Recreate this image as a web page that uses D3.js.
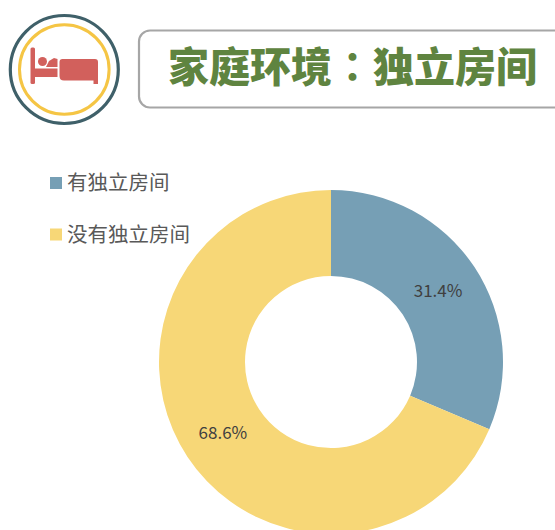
<!DOCTYPE html>
<html>
<head>
<meta charset="utf-8">
<script src="https://cdn.jsdelivr.net/npm/d3@7"></script>
<style>
  html, body { margin: 0; padding: 0; background: #fff; overflow: hidden; }
  text { font-family: "Noto Sans CJK SC", sans-serif; }
</style>
</head>
<body>
<div id="chart"></div>
<script>
// values
const categories = ["有独立房间", "没有独立房间"];
const values = [31.4, 68.6];
const labels = ["31.4%", "68.6%"];
const colors = ["#769fb5", "#f7d777"];
const titleLeft = "家庭环境";
const titleColon = "：";
const titleRight = "独立房间";

const width = 555, height = 530;

const svg = d3.select("#chart")
  .append("svg")
  .attr("width", width)
  .attr("height", height);

// Icon: two rings + bed
const icon = svg.append("g").attr("transform", "translate(64.3,69.5)");
icon.append("circle").attr("r", 54).attr("fill", "none")
  .attr("stroke", "#3f6069").attr("stroke-width", 3.2);
icon.append("circle").attr("r", 44.8).attr("fill", "none")
  .attr("stroke", "#f5c544").attr("stroke-width", 3);

const bed = svg.append("g").attr("fill", "#d2605c");
bed.append("rect").attr("x", 30.5).attr("y", 47.5).attr("width", 4.5).attr("height", 36.5).attr("rx", 1.5);
bed.append("rect").attr("x", 35).attr("y", 68.5).attr("width", 22.5).attr("height", 8.5);
bed.append("circle").attr("cx", 42.5).attr("cy", 61.5).attr("r", 4.5);
bed.append("path").attr("d", "M46 67 L49 61 L54 58 L57.5 59 L57.5 67 Z");
bed.append("path").attr("d", "M59.5 62 Q59.5 59 62.5 59 L95 59 Q98 59 98 62 L98 84 L93.5 84 L93.5 80.5 L64 80.5 Q59.5 80.5 59.5 76 Z");

// Title box
svg.append("rect")
  .attr("x", 139).attr("y", 30.5)
  .attr("width", 480).attr("height", 77)
  .attr("rx", 11)
  .attr("fill", "#fff")
  .attr("stroke", "#a6a6a6")
  .attr("stroke-width", 2.2);

// the TC face has the colon centred in its cell, as in the reference
const titleText = svg.append("text")
  .attr("x", 168)
  .attr("y", 82)
  .attr("font-size", 41)
  .attr("font-weight", 900)
  .attr("fill", "#5f8440");
titleText.append("tspan").text(titleLeft);
titleText.append("tspan").style("font-family", '"Noto Sans CJK TC"').attr("font-weight", 700).text(titleColon);
titleText.append("tspan").text(titleRight);

// Donut
const cx = 331, cy = 362, outer = 172, inner = 86;

const pie = d3.pie().sort(null).value(d => d);
const arc = d3.arc().innerRadius(inner).outerRadius(outer);
const labelArc = d3.arc().innerRadius(129).outerRadius(129);

const donut = svg.append("g").attr("transform", `translate(${cx},${cy})`);

donut.selectAll("path")
  .data(pie(values))
  .join("path")
  .attr("d", arc)
  .attr("fill", (d, i) => colors[i]);

donut.selectAll("text")
  .data(pie(values))
  .join("text")
  .attr("transform", d => `translate(${labelArc.centroid(d)})`)
  .attr("text-anchor", "middle")
  .attr("dy", "0.35em")
  .attr("x", -0.5)
  .attr("font-size", 17)
  .attr("fill", "#404040")
  .text((d, i) => labels[i]);

// Legend
const legend = svg.append("g")
  .selectAll("g")
  .data(categories)
  .join("g")
  .attr("transform", (d, i) => `translate(50,${183 + i * 51.5})`);

legend.append("rect")
  .attr("x", 0).attr("y", -6)
  .attr("width", 12).attr("height", 12)
  .attr("fill", (d, i) => colors[i]);

legend.append("text")
  .attr("x", 17)
  .attr("dy", "0.36em")
  .attr("font-size", 20.5)
  .attr("fill", "#595959")
  .text(d => d);
</script>
</body>
</html>
